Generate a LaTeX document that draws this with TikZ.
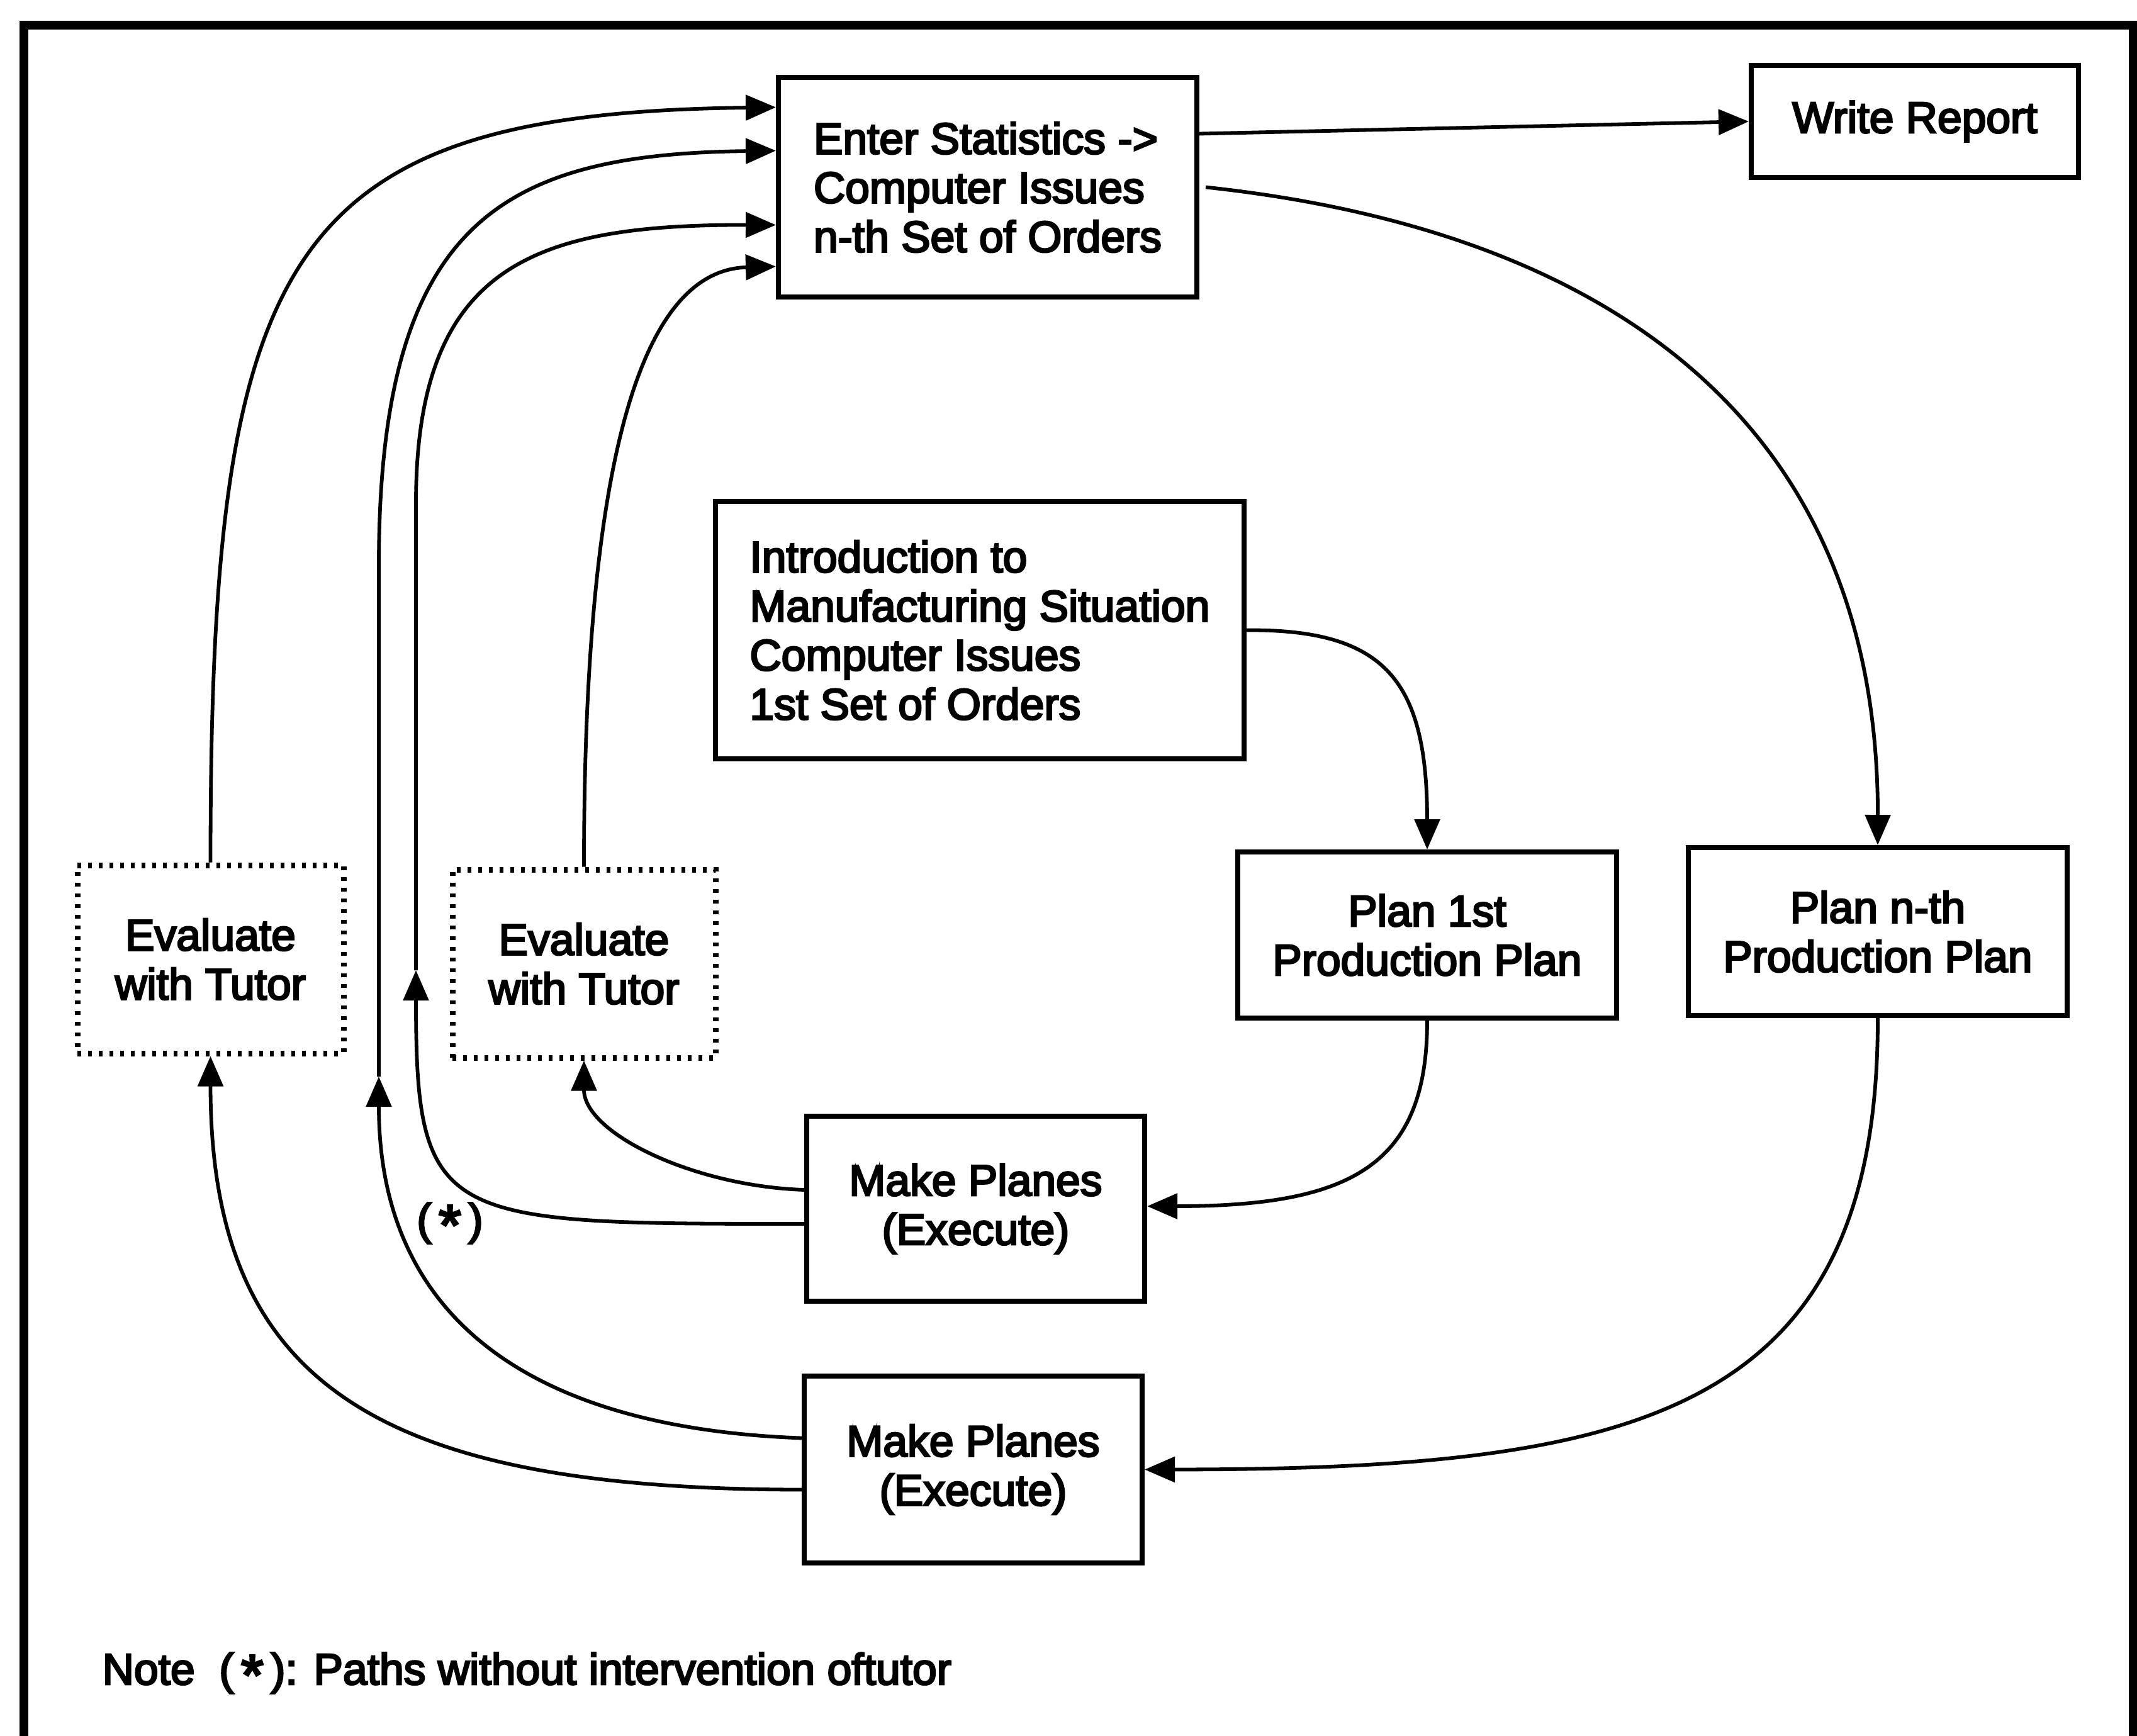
\documentclass[tikz,border=0pt]{standalone}
\usepackage{fontspec}
\usetikzlibrary{arrows.meta}
\newfontfamily\diagfont{Liberation Sans}[FakeBold=4]
\newcommand{\diagstar}{\raisebox{-0.45ex}{\diagfont\fontsize{26}{26}\selectfont *}}
\begin{document}
\begin{tikzpicture}[x=1cm,y=1cm,
  box/.style={draw, line width=0.08cm, inner sep=0pt,
    font=\diagfont\fontsize{19.8}{22.2}\selectfont},
  tutorbox/.style={box, line width=0.09cm, dash pattern=on 0.06cm off 0.11cm},
  link/.style={line width=0.058cm, -{Triangle[length=0.48cm,width=0.40cm]}},
  lbl/.style={font=\diagfont\fontsize{19.8}{22.2}\selectfont, inner sep=0pt}
]
\useasboundingbox (0,0) rectangle (33.96,-27.59);
\clip (0,0) rectangle (33.96,-27.59);

% outer frame
\draw[line width=0.14cm] (0.38,-0.40) rectangle (33.90,-27.85);

% process boxes
\node[box, minimum width=6.65cm, minimum height=3.49cm, align=left] (es) at (15.695,-2.975)
  {Enter Statistics ->\\Computer Issues\\n-th Set of Orders};
\node[box, minimum width=5.20cm, minimum height=1.78cm] (wr) at (30.43,-1.93) {Write Report};
\node[box, minimum width=8.40cm, minimum height=4.09cm, align=left] (intro) at (15.57,-10.015)
  {Introduction to\\Manufacturing Situation\\Computer Issues\\1st Set of Orders};
\node[box, minimum width=6.02cm, minimum height=2.64cm, align=center] (p1) at (22.68,-14.86)
  {Plan 1st\\Production Plan};
\node[box, minimum width=6.02cm, minimum height=2.67cm, align=center] (pn) at (29.84,-14.805)
  {Plan n-th\\Production Plan};
\node[tutorbox, minimum width=4.23cm, minimum height=2.99cm, align=center] (ev1) at (3.345,-15.245)
  {Evaluate\\with Tutor};
\node[tutorbox, minimum width=4.18cm, minimum height=2.99cm, align=center] (ev2) at (9.28,-15.315)
  {Evaluate\\with Tutor};
\node[box, minimum width=5.37cm, minimum height=2.94cm, align=center] (mp1) at (15.505,-19.21)
  {Make Planes\\(Execute)};
\node[box, minimum width=5.37cm, minimum height=2.97cm, align=center] (mp2) at (15.465,-23.355)
  {Make Planes\\(Execute)};

% labels
\node[lbl] (star) at (7.15,-19.45) {(\,\diagstar\,)};
\node[lbl, anchor=west] (note) at (1.62,-26.60) {Note\ \ (\,\diagstar\,): Paths without intervention oftutor};

% points where the untutored paths carry an arrow on the way up
\coordinate (upA) at (6.02,-17.11);
\coordinate (upB) at (6.61,-15.42);

% connectors
\draw[link] ([yshift=0.85cm]es.east) -- (wr.west);
\draw[link] ([xshift=0.1cm]es.east) .. controls (25.0,-3.6) and (29.85,-6.3) .. (pn.north);
\draw[link] (intro.east) .. controls (22.0,-10.0) and (22.68,-10.8) .. (p1.north);
\draw[link] (p1.south) .. controls (22.68,-18.5) and (21.5,-19.17) .. ([yshift=0.04cm]mp1.east);
\draw[link] (pn.south) .. controls (29.85,-22.5) and (26.0,-23.35) .. (mp2.east);

\draw[link] ([yshift=0.3cm]mp1.west) .. controls (11.0,-18.85) and (9.28,-18.0) .. (ev2.south);
\draw[link] ([yshift=-0.32cm]mp2.west) .. controls (6.0,-23.67) and (3.345,-22.0) .. (ev1.south);

\draw[link] (ev1.north) .. controls (3.345,-4.0) and (4.5,-1.80) .. ([yshift=1.27cm]es.west);
\draw[link] (ev2.north) .. controls (9.28,-8.0) and (10.0,-4.30) .. ([yshift=-1.26cm]es.west);

\draw[link] ([yshift=0.5cm]mp2.west) .. controls (8.5,-22.70) and (6.02,-21.0) .. (upA);
\draw[link] (upA) -- (6.02,-9.0) .. controls (6.02,-3.5) and (8.0,-2.45) .. ([yshift=0.58cm]es.west);

\draw[link] ([yshift=-0.24cm]mp1.west) .. controls (7.0,-19.45) and (6.61,-19.45) .. (upB);
\draw[link] (upB) -- (6.61,-8.0) .. controls (6.61,-4.2) and (8.5,-3.57) .. ([yshift=-0.60cm]es.west);
\end{tikzpicture}
\end{document}
